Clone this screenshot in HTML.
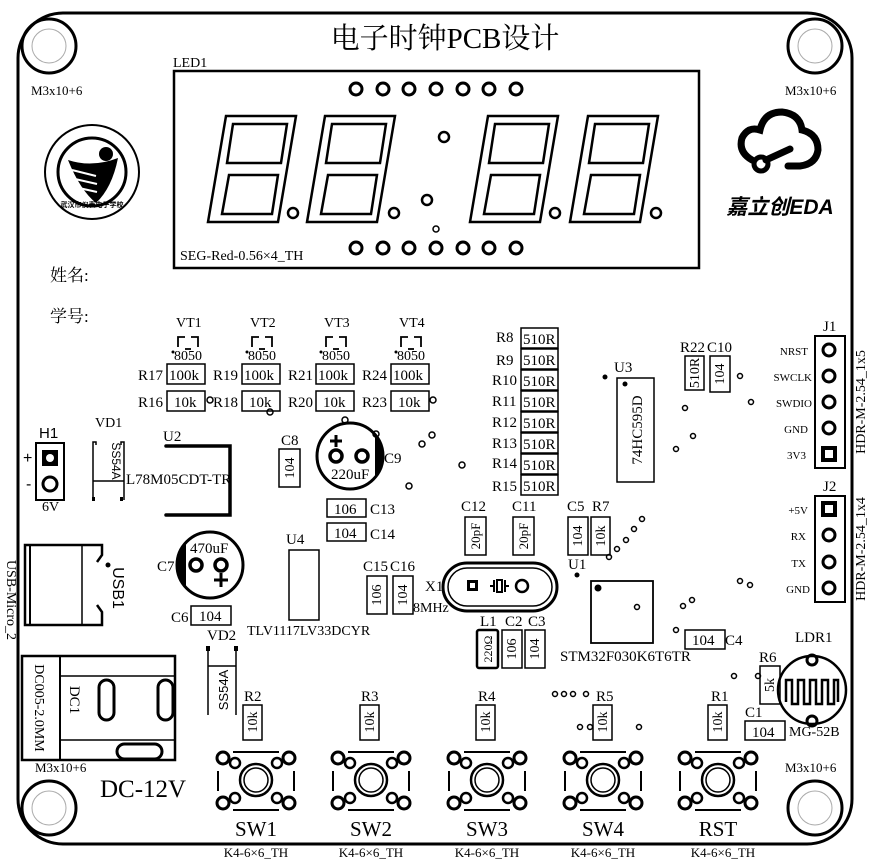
<!DOCTYPE html>
<html><head><meta charset="utf-8"><style>
html,body{margin:0;padding:0;background:#fff;}
svg{display:block;font-family:"Liberation Serif","Noto Serif CJK SC",serif;}
</style></head><body>
<svg width="870" height="860" viewBox="0 0 870 860" xmlns="http://www.w3.org/2000/svg">
<rect x="0" y="0" width="870" height="860" fill="#fff"/>
<rect x="18" y="13" width="834" height="831" rx="45" fill="none" stroke="#000" stroke-width="3"/>

<text x="445" y="48" font-size="29" text-anchor="middle">电子时钟PCB设计</text>

<g fill="none" stroke="#000">
<circle cx="49" cy="46" r="27" stroke-width="3"/><circle cx="49" cy="46" r="17" stroke="#aaa" stroke-width="1"/>
<circle cx="815" cy="46" r="27" stroke-width="3"/><circle cx="815" cy="46" r="17" stroke="#aaa" stroke-width="1"/>
<circle cx="49" cy="808" r="27" stroke-width="3"/><circle cx="49" cy="808" r="17" stroke="#aaa" stroke-width="1"/>
<circle cx="815" cy="808" r="27" stroke-width="3"/><circle cx="815" cy="808" r="17" stroke="#aaa" stroke-width="1"/>
</g>
<g font-size="13" fill="#000">
<text x="31" y="95">M3x10+6</text>
<text x="785" y="95">M3x10+6</text>
<text x="35" y="772">M3x10+6</text>
<text x="785" y="772">M3x10+6</text>
</g>

<text x="173" y="67" font-size="14">LED1</text>
<rect x="174" y="71" width="525" height="197" fill="none" stroke="#000" stroke-width="2.5"/>
<text x="180" y="260" font-size="14">SEG-Red-0.56×4_TH</text>
<g fill="none" stroke="#000" stroke-width="3">
<circle cx="356" cy="89" r="6"/><circle cx="383" cy="89" r="6"/><circle cx="409" cy="89" r="6"/><circle cx="436" cy="89" r="6"/><circle cx="463" cy="89" r="6"/><circle cx="489" cy="89" r="6"/><circle cx="516" cy="89" r="6"/>
<circle cx="356" cy="248" r="6"/><circle cx="383" cy="248" r="6"/><circle cx="409" cy="248" r="6"/><circle cx="436" cy="248" r="6"/><circle cx="463" cy="248" r="6"/><circle cx="489" cy="248" r="6"/><circle cx="516" cy="248" r="6"/>
</g>
<g fill="none" stroke="#000" stroke-width="2.5">
<circle cx="293" cy="213" r="5"/><circle cx="394" cy="213" r="5"/><circle cx="555" cy="213" r="5"/><circle cx="656" cy="213" r="5"/>
<circle cx="444" cy="137" r="5"/><circle cx="427" cy="200" r="5"/>
</g>
<circle cx="436" cy="229" r="3" fill="none" stroke="#000" stroke-width="1.5"/>
<g id="dig" fill="none" stroke="#000" stroke-width="2.5">
<polygon points="226,116 296,116 278,222 208,222"/>
<polygon points="233,124 287,124 281,163 227,163"/>
<polygon points="229,175 278,175 272,214 222,214"/>
</g>
<use href="#dig" x="99"/><use href="#dig" x="262"/><use href="#dig" x="362"/>

<g>
<circle cx="92" cy="172" r="47" fill="none" stroke="#000" stroke-width="2"/>
<circle cx="92" cy="172" r="34" fill="none" stroke="#000" stroke-width="3"/>
<circle cx="106" cy="154" r="7" fill="#000"/>
<path d="M68 160 Q92 168 118 158 Q112 188 96 203 Q80 190 68 160 Z" fill="#000"/>
<path d="M72 170 L96 176 M75 179 L97 184 M79 188 L97 192" stroke="#fff" stroke-width="2"/>
<text x="92" y="207" font-size="7" text-anchor="middle" font-family="Noto Sans CJK SC,sans-serif" font-weight="bold">武汉市仪表电子学校</text>
</g>

<g>
<path d="M752 160 Q738 152 742 138 Q748 126 760 130 Q764 112 782 112 Q800 114 802 130 Q818 134 818 150 Q816 164 800 166 L788 166" fill="none" stroke="#000" stroke-width="7" stroke-linecap="round"/>
<line x1="766" y1="160" x2="790" y2="149" stroke="#000" stroke-width="7" stroke-linecap="round"/>
<circle cx="761" cy="164" r="7" fill="none" stroke="#000" stroke-width="5"/>
<text x="780" y="214" font-size="21" text-anchor="middle" font-weight="bold" font-style="italic" font-family="Liberation Sans,Noto Sans CJK SC,sans-serif">嘉立创EDA</text>
</g>

<g font-size="17" font-family="Liberation Serif,Noto Serif CJK SC,serif">
<text x="50" y="281">姓名:</text>
<text x="50" y="322">学号:</text>
</g>

<g font-size="14">
<text x="176" y="327">VT1</text><text x="250" y="327">VT2</text><text x="324" y="327">VT3</text><text x="399" y="327">VT4</text>
<text x="174" y="360">8050</text><text x="248" y="360">8050</text><text x="322" y="360">8050</text><text x="397" y="360">8050</text>
</g>
<g fill="none" stroke="#000" stroke-width="1.8">
<path d="M178 347 V337 H185 M191 337 H198 V347"/><line x1="185" y1="349" x2="191" y2="349"/>
<path d="M252 347 V337 H259 M265 337 H272 V347"/><line x1="259" y1="349" x2="265" y2="349"/>
<path d="M326 347 V337 H333 M339 337 H346 V347"/><line x1="333" y1="349" x2="339" y2="349"/>
<path d="M401 347 V337 H408 M414 337 H421 V347"/><line x1="408" y1="349" x2="414" y2="349"/>
</g>
<g fill="#000"><circle cx="173" cy="352" r="1.5"/><circle cx="247" cy="352" r="1.5"/><circle cx="321" cy="352" r="1.5"/><circle cx="396" cy="352" r="1.5"/></g>

<g fill="none" stroke="#000" stroke-width="1.5">
<rect x="167" y="364" width="38" height="20"/><rect x="167" y="391" width="38" height="20"/>
<rect x="242" y="364" width="38" height="20"/><rect x="242" y="391" width="38" height="20"/>
<rect x="316" y="364" width="38" height="20"/><rect x="316" y="391" width="38" height="20"/>
<rect x="391" y="364" width="38" height="20"/><rect x="391" y="391" width="38" height="20"/>
</g>
<g font-size="15">
<text x="169" y="380">100k</text><text x="174" y="407">10k</text>
<text x="244" y="380">100k</text><text x="249" y="407">10k</text>
<text x="318" y="380">100k</text><text x="323" y="407">10k</text>
<text x="393" y="380">100k</text><text x="398" y="407">10k</text>
<text x="138" y="380">R17</text><text x="138" y="407">R16</text>
<text x="213" y="380">R19</text><text x="213" y="407">R18</text>
<text x="288" y="380">R21</text><text x="288" y="407">R20</text>
<text x="362" y="380">R24</text><text x="362" y="407">R23</text>
</g>
<g fill="none" stroke="#000" stroke-width="1.5">
<circle cx="210" cy="400" r="3"/><circle cx="270" cy="412" r="3"/><circle cx="433" cy="400" r="3"/>
<circle cx="345" cy="420" r="3"/><circle cx="376" cy="434" r="3"/><circle cx="432" cy="435" r="3"/><circle cx="422" cy="444" r="3"/>
<circle cx="462" cy="465" r="3"/><circle cx="409" cy="486" r="3"/>
</g>

<g fill="none" stroke="#000" stroke-width="1.5">
<rect x="521" y="328" width="37" height="20"/><rect x="521" y="349" width="37" height="20"/><rect x="521" y="370" width="37" height="20"/><rect x="521" y="391" width="37" height="20"/>
<rect x="521" y="412" width="37" height="20"/><rect x="521" y="433" width="37" height="20"/><rect x="521" y="454" width="37" height="20"/><rect x="521" y="475" width="37" height="20"/>
</g>
<g font-size="15">
<text x="523" y="344">510R</text><text x="523" y="365">510R</text><text x="523" y="386">510R</text><text x="523" y="407">510R</text>
<text x="523" y="428">510R</text><text x="523" y="449">510R</text><text x="523" y="470">510R</text><text x="523" y="491">510R</text>
<text x="496" y="342">R8</text><text x="496" y="365">R9</text><text x="492" y="385">R10</text><text x="492" y="406">R11</text>
<text x="492" y="427">R12</text><text x="492" y="448">R13</text><text x="492" y="468">R14</text><text x="492" y="491">R15</text>
</g>

<text x="39" y="438" font-size="15" font-family="Liberation Sans,sans-serif">H1</text>
<rect x="36" y="443" width="28" height="57" fill="none" stroke="#000" stroke-width="2"/>
<rect x="42" y="450" width="16" height="16" fill="#000"/><circle cx="50" cy="458" r="4" fill="#fff"/>
<circle cx="50" cy="484" r="7" fill="none" stroke="#000" stroke-width="3"/>
<text x="23" y="463" font-size="16" font-family="Liberation Sans,sans-serif">+</text>
<text x="26" y="489" font-size="16" font-family="Liberation Sans,sans-serif">-</text>
<text x="42" y="511" font-size="14">6V</text>

<text x="95" y="427" font-size="14">VD1</text>
<path d="M96 445 V442 H93 V500 M121 445 V442 H124 V500" fill="none" stroke="#000" stroke-width="1.5"/>
<line x1="93" y1="481" x2="124" y2="481" stroke="#000" stroke-width="1.5"/>
<rect x="92" y="497" width="3" height="4" fill="#000"/><rect x="120" y="497" width="3" height="4" fill="#000"/>
<text transform="translate(112,461) rotate(90)" font-size="12" text-anchor="middle" font-family="Liberation Sans,sans-serif">SS54A</text>

<text x="163" y="441" font-size="15">U2</text>
<path d="M166 446 H230 V515 H166" fill="none" stroke="#000" stroke-width="3.5" stroke-linecap="round"/>
<text x="126" y="484" font-size="15">L78M05CDT-TR</text>

<text x="281" y="445" font-size="15">C8</text>
<rect x="279" y="449" width="21" height="38" fill="none" stroke="#000" stroke-width="1.5"/>
<text transform="translate(294,468) rotate(-90)" font-size="14" text-anchor="middle">104</text>
<circle cx="350" cy="456" r="33" fill="none" stroke="#000" stroke-width="3"/>
<path d="M375 434 A33 33 0 0 1 375 478 Z" fill="#000"/>
<circle cx="336" cy="456" r="6" fill="none" stroke="#000" stroke-width="3.5"/>
<circle cx="362" cy="456" r="6" fill="none" stroke="#000" stroke-width="3.5"/>
<path d="M336 435 V447 M330 441 H342" stroke="#000" stroke-width="3"/>
<text x="331" y="479" font-size="15">220uF</text>
<text x="384" y="463" font-size="15">C9</text>

<rect x="327" y="499" width="39" height="18" fill="none" stroke="#000" stroke-width="1.5"/>
<rect x="327" y="523" width="39" height="18" fill="none" stroke="#000" stroke-width="1.5"/>
<text x="334" y="514" font-size="15">106</text><text x="334" y="538" font-size="15">104</text>
<text x="370" y="514" font-size="15">C13</text><text x="370" y="539" font-size="15">C14</text>

<text transform="translate(7,600) rotate(90)" font-size="14" text-anchor="middle">USB-Micro_2</text>
<path d="M97 562 L102 555 V545 H25 V625 H102 V612 L97 605" fill="none" stroke="#000" stroke-width="2.5"/>
<line x1="30" y1="545" x2="30" y2="625" stroke="#000" stroke-width="2"/>
<line x1="82" y1="545" x2="82" y2="625" stroke="#000" stroke-width="1.5"/>
<circle cx="108" cy="565" r="2.5" fill="#000"/>
<text transform="translate(113,588) rotate(90)" font-size="16" text-anchor="middle" font-family="Liberation Sans,sans-serif">USB1</text>

<circle cx="210" cy="565" r="33" fill="none" stroke="#000" stroke-width="3"/>
<path d="M186 543 A33 33 0 0 0 186 587 Z" fill="#000"/>
<circle cx="196" cy="565" r="6" fill="none" stroke="#000" stroke-width="3.5"/>
<circle cx="221" cy="565" r="6" fill="none" stroke="#000" stroke-width="3.5"/>
<path d="M221 573 V587 M214 580 H228" stroke="#000" stroke-width="3"/>
<text x="190" y="553" font-size="15">470uF</text>
<text x="157" y="571" font-size="15">C7</text>

<text x="171" y="622" font-size="15">C6</text>
<rect x="191" y="606" width="40" height="19" fill="none" stroke="#000" stroke-width="1.5"/>
<text x="199" y="621" font-size="15">104</text>

<text x="286" y="544" font-size="15">U4</text>
<rect x="289" y="550" width="30" height="70" fill="none" stroke="#000" stroke-width="1.5"/>
<text x="247" y="635" font-size="14">TLV1117LV33DCYR</text>

<text x="363" y="571" font-size="15">C15</text><text x="390" y="571" font-size="15">C16</text>
<rect x="367" y="576" width="20" height="38" fill="none" stroke="#000" stroke-width="1.5"/>
<rect x="393" y="576" width="20" height="38" fill="none" stroke="#000" stroke-width="1.5"/>
<text transform="translate(381,595) rotate(-90)" font-size="14" text-anchor="middle">106</text>
<text transform="translate(407,595) rotate(-90)" font-size="14" text-anchor="middle">104</text>
<text x="413" y="612" font-size="14">8MHz</text>

<text x="425" y="591" font-size="15">X1</text>
<rect x="443" y="563" width="114" height="48" rx="24" fill="none" stroke="#000" stroke-width="3"/>
<rect x="448" y="568" width="104" height="38" rx="19" fill="none" stroke="#000" stroke-width="1.5"/>
<rect x="467" y="580" width="11" height="11" fill="#000"/><rect x="470" y="583" width="5" height="5" fill="#fff"/>
<path d="M490 586 H494 M494 580 V592 M497 580 H502 V592 H497 Z M505 580 V592 M505 586 H509" fill="none" stroke="#000" stroke-width="2"/>
<circle cx="522" cy="586" r="6" fill="none" stroke="#000" stroke-width="2.5"/>

<text x="461" y="511" font-size="15">C12</text><text x="512" y="511" font-size="15">C11</text>
<rect x="465" y="517" width="21" height="38" fill="none" stroke="#000" stroke-width="1.5"/>
<rect x="513" y="517" width="21" height="38" fill="none" stroke="#000" stroke-width="1.5"/>
<text transform="translate(480,536) rotate(-90)" font-size="13" text-anchor="middle">20pF</text>
<text transform="translate(528,536) rotate(-90)" font-size="13" text-anchor="middle">20pF</text>

<text x="480" y="626" font-size="15">L1</text><text x="505" y="626" font-size="15">C2</text><text x="528" y="626" font-size="15">C3</text>
<rect x="477" y="630" width="21" height="38" rx="2" fill="none" stroke="#000" stroke-width="2.5"/>
<rect x="502" y="630" width="20" height="38" fill="none" stroke="#000" stroke-width="1.5"/>
<rect x="525" y="630" width="20" height="38" fill="none" stroke="#000" stroke-width="1.5"/>
<text transform="translate(492,649) rotate(-90)" font-size="12" text-anchor="middle">220Ω</text>
<text transform="translate(516,649) rotate(-90)" font-size="14" text-anchor="middle">106</text>
<text transform="translate(539,649) rotate(-90)" font-size="14" text-anchor="middle">104</text>

<text x="567" y="511" font-size="15">C5</text><text x="592" y="511" font-size="15">R7</text>
<rect x="568" y="517" width="20" height="38" fill="none" stroke="#000" stroke-width="1.5"/>
<rect x="591" y="517" width="19" height="38" fill="none" stroke="#000" stroke-width="1.5"/>
<text transform="translate(582,536) rotate(-90)" font-size="14" text-anchor="middle">104</text>
<text transform="translate(605,536) rotate(-90)" font-size="14" text-anchor="middle">10k</text>
<g fill="none" stroke="#000" stroke-width="1.5">
<circle cx="609" cy="557" r="2.5"/><circle cx="617" cy="549" r="2.5"/><circle cx="626" cy="540" r="2.5"/><circle cx="634" cy="529" r="2.5"/><circle cx="642" cy="519" r="2.5"/>
<circle cx="740" cy="581" r="2.5"/><circle cx="750" cy="585" r="2.5"/><circle cx="683" cy="606" r="2.5"/><circle cx="692" cy="600" r="2.5"/><circle cx="676" cy="630" r="2.5"/>
<circle cx="685" cy="408" r="2.5"/><circle cx="693" cy="436" r="2.5"/><circle cx="676" cy="449" r="2.5"/><circle cx="740" cy="376" r="2.5"/><circle cx="751" cy="402" r="2.5"/>
<circle cx="734" cy="676" r="2.5"/><circle cx="758" cy="676" r="2.5"/>
</g>

<text x="568" y="569" font-size="15">U1</text>
<circle cx="577" cy="575" r="2.5" fill="#000"/>
<rect x="591" y="581" width="62" height="62" fill="none" stroke="#000" stroke-width="1.8"/>
<circle cx="598" cy="588" r="3.5" fill="#000"/>
<circle cx="637" cy="607" r="2.5" fill="none" stroke="#000" stroke-width="1.5"/>
<text x="560" y="661" font-size="15">STM32F030K6T6TR</text>

<text x="614" y="372" font-size="15">U3</text>
<circle cx="605" cy="377" r="2.5" fill="#000"/>
<rect x="617" y="378" width="37" height="104" fill="none" stroke="#000" stroke-width="1.5"/>
<circle cx="625" cy="384" r="2.5" fill="#000"/>
<text transform="translate(642,430) rotate(-90)" font-size="15" text-anchor="middle">74HC595D</text>

<text x="680" y="352" font-size="15">R22</text><text x="707" y="352" font-size="15">C10</text>
<rect x="685" y="356" width="19" height="34" fill="none" stroke="#000" stroke-width="1.5"/>
<rect x="710" y="356" width="20" height="36" fill="none" stroke="#000" stroke-width="1.5"/>
<text transform="translate(699,373) rotate(-90)" font-size="14" text-anchor="middle">510R</text>
<text transform="translate(724,374) rotate(-90)" font-size="14" text-anchor="middle">104</text>

<text x="823" y="331" font-size="15">J1</text>
<rect x="815" y="336" width="30" height="132" fill="none" stroke="#000" stroke-width="2"/>
<g fill="none" stroke="#000" stroke-width="3">
<circle cx="829" cy="350" r="6"/><circle cx="829" cy="376" r="6"/><circle cx="829" cy="402" r="6"/><circle cx="829" cy="428" r="6"/>
</g>
<rect x="821" y="446" width="16" height="16" fill="#000"/><rect x="825" y="450" width="8" height="8" fill="#fff"/>
<g font-size="11" text-anchor="end">
<text x="808" y="355">NRST</text><text x="812" y="381">SWCLK</text><text x="812" y="407">SWDIO</text><text x="808" y="433">GND</text><text x="806" y="459">3V3</text>
</g>
<text transform="translate(865,402) rotate(-90)" font-size="14" text-anchor="middle">HDR-M-2.54_1x5</text>

<text x="823" y="491" font-size="15">J2</text>
<rect x="815" y="496" width="30" height="106" fill="none" stroke="#000" stroke-width="2"/>
<rect x="821" y="501" width="16" height="16" fill="#000"/><rect x="825" y="505" width="8" height="8" fill="#fff"/>
<g fill="none" stroke="#000" stroke-width="3">
<circle cx="829" cy="535" r="6"/><circle cx="829" cy="562" r="6"/><circle cx="829" cy="588" r="6"/>
</g>
<g font-size="11" text-anchor="end">
<text x="808" y="514">+5V</text><text x="806" y="540">RX</text><text x="806" y="567">TX</text><text x="810" y="593">GND</text>
</g>
<text transform="translate(865,549) rotate(-90)" font-size="14" text-anchor="middle">HDR-M-2.54_1x4</text>

<rect x="685" y="630" width="40" height="19" fill="none" stroke="#000" stroke-width="1.5"/>
<text x="692" y="645" font-size="15">104</text><text x="725" y="645" font-size="15">C4</text>

<text x="759" y="662" font-size="15">R6</text>
<rect x="760" y="666" width="20" height="38" fill="none" stroke="#000" stroke-width="1.5"/>
<text transform="translate(774,685) rotate(-90)" font-size="14" text-anchor="middle">5k</text>
<text x="795" y="642" font-size="15">LDR1</text>
<circle cx="812" cy="690" r="34" fill="none" stroke="#000" stroke-width="2.5"/>
<circle cx="812" cy="660" r="5" fill="none" stroke="#000" stroke-width="3"/>
<circle cx="812" cy="721" r="5" fill="none" stroke="#000" stroke-width="3"/>
<path d="M786 702 V680 H792 V704 H798 V680 H804 V704 H810 V680 H816 V704 H822 V680 H828 V704 H834 V680 H838 V702" fill="none" stroke="#000" stroke-width="2.5"/>

<text x="745" y="717" font-size="15">C1</text>
<rect x="745" y="721" width="40" height="19" fill="none" stroke="#000" stroke-width="1.5"/>
<text x="752" y="737" font-size="15">104</text>
<text x="789" y="736" font-size="14">MG-52B</text>

<rect x="22" y="656" width="153" height="104" fill="none" stroke="#000" stroke-width="2.5"/>
<line x1="60" y1="656" x2="60" y2="760" stroke="#000" stroke-width="2"/>
<line x1="60" y1="676" x2="175" y2="676" stroke="#000" stroke-width="1.5"/>
<line x1="60" y1="740" x2="175" y2="740" stroke="#000" stroke-width="1.5"/>
<text transform="translate(35,708) rotate(90)" font-size="14" text-anchor="middle">DC005-2.0MM</text>
<text transform="translate(70,700) rotate(90)" font-size="15" text-anchor="middle">DC1</text>
<rect x="99" y="680" width="15" height="40" rx="7.5" fill="none" stroke="#000" stroke-width="3"/>
<rect x="158" y="680" width="15" height="40" rx="7.5" fill="none" stroke="#000" stroke-width="3"/>
<rect x="117" y="744" width="45" height="15" rx="7.5" fill="none" stroke="#000" stroke-width="3"/>
<text x="100" y="797" font-size="25">DC-12V</text>

<text x="207" y="640" font-size="15">VD2</text>
<path d="M208 650 V715 M236 650 V715" stroke="#000" stroke-width="1.5"/>
<line x1="208" y1="666" x2="236" y2="666" stroke="#000" stroke-width="1.5"/>
<rect x="206" y="646" width="4" height="5" fill="#000"/><rect x="234" y="646" width="4" height="5" fill="#000"/>
<text transform="translate(228,690) rotate(-90)" font-size="13" text-anchor="middle" font-family="Liberation Sans,sans-serif">SS54A</text>

<g id="rv">
<rect x="243" y="705" width="19" height="35" fill="none" stroke="#000" stroke-width="1.5"/>
<text transform="translate(257,722) rotate(-90)" font-size="14" text-anchor="middle">10k</text>
</g>
<use href="#rv" x="117"/><use href="#rv" x="233"/><use href="#rv" x="350"/><use href="#rv" x="465"/>
<g font-size="15">
<text x="244" y="701">R2</text><text x="361" y="701">R3</text><text x="478" y="701">R4</text><text x="596" y="701">R5</text><text x="711" y="701">R1</text>
</g>
<g fill="none" stroke="#000" stroke-width="1.5">
<circle cx="555" cy="694" r="2.5"/><circle cx="564" cy="694" r="2.5"/><circle cx="573" cy="694" r="2.5"/><circle cx="586" cy="694" r="2.5"/>
<circle cx="580" cy="727" r="2.5"/><circle cx="590" cy="727" r="2.5"/><circle cx="639" cy="727" r="2.5"/>
</g>

<g id="sw" fill="none" stroke="#000">
<circle cx="223" cy="758" r="6" stroke-width="3"/><circle cx="235" cy="763" r="5" stroke-width="2.5"/>
<circle cx="289" cy="758" r="6" stroke-width="3"/><circle cx="277" cy="763" r="5" stroke-width="2.5"/>
<circle cx="223" cy="803" r="6" stroke-width="3"/><circle cx="235" cy="798" r="5" stroke-width="2.5"/>
<circle cx="289" cy="803" r="6" stroke-width="3"/><circle cx="277" cy="798" r="5" stroke-width="2.5"/>
<line x1="233" y1="752" x2="279" y2="752" stroke-width="2"/>
<line x1="233" y1="810" x2="279" y2="810" stroke-width="2"/>
<line x1="218" y1="771" x2="218" y2="791" stroke-width="2"/>
<line x1="294" y1="771" x2="294" y2="791" stroke-width="2"/>
<circle cx="256" cy="780" r="16" stroke-width="2.5"/>
<circle cx="256" cy="780" r="12" stroke-width="1.5"/>
</g>
<use href="#sw" x="115"/><use href="#sw" x="231"/><use href="#sw" x="347"/><use href="#sw" x="462"/>
<g font-size="21" text-anchor="middle">
<text x="256" y="836">SW1</text><text x="371" y="836">SW2</text><text x="487" y="836">SW3</text><text x="603" y="836">SW4</text><text x="718" y="836">RST</text>
</g>
<g font-size="13" text-anchor="middle">
<text x="256" y="857">K4-6×6_TH</text><text x="371" y="857">K4-6×6_TH</text><text x="487" y="857">K4-6×6_TH</text><text x="603" y="857">K4-6×6_TH</text><text x="723" y="857">K4-6×6_TH</text>
</g>
</svg>
</body></html>
